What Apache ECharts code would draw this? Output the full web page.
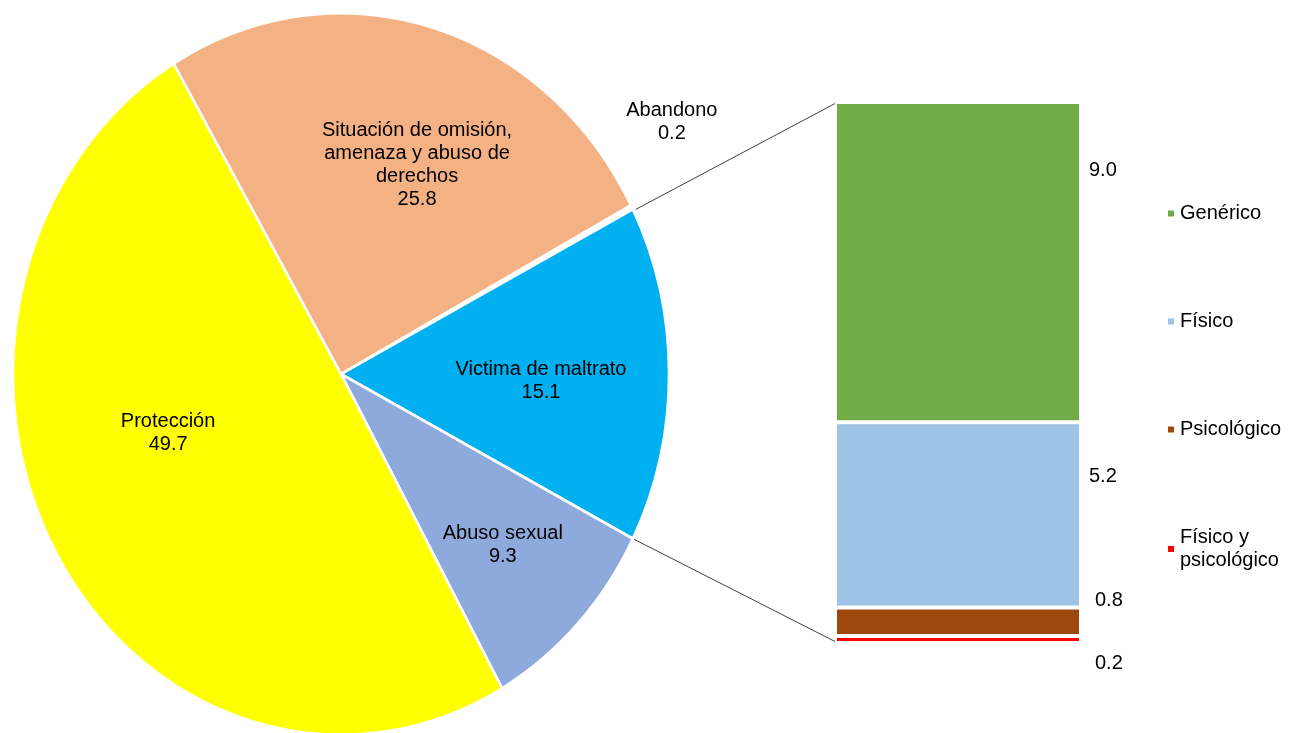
<!DOCTYPE html>
<html>
<head>
<meta charset="utf-8">
<script src="https://cdn.jsdelivr.net/npm/echarts@6/dist/echarts.min.js"></script>
<style>
  html, body { margin: 0; padding: 0; background: #fff; }
  #main { width: 1295px; height: 733px; }
</style>
</head>
<body>
<div id="main"></div>
<script>
// pie: all cases
var pieNames = ["Abandono", "Victima de maltrato", "Abuso sexual", "Protección", "Situación de omisión,\namenaza y abuso de\nderechos"];
var pieValues = [0.2, 15.1, 9.3, 49.7, 25.8];
var pieColors = ["#FFFFFF", "#00B0F0", "#8EA9DB", "#FFFF00", "#F4B183"];

// bar: breakdown of "Victima de maltrato" (bottom to top)
var barNames = ["Físico y\npsicológico", "Psicológico", "Físico", "Genérico"];
var barValues = [0.2, 0.8, 5.2, 9.0];
var barColors = ["#FF0000", "#9E480E", "#9DC3E6", "#70AD47"];
var legendOrder = ["Genérico", "Físico", "Psicológico", "Físico y\npsicológico"];

var FONT = "Liberation Sans";

// pie geometry (slightly taller than wide, like the original)
var CX = 341, CY = 374, R = 328, SY = 1.1;
// label spots: [angle deg (screen), fraction of radius]
var labelSpots = [[-34.9, 1.23], [1.3, 0.61], [43.5, 0.68], [163.4, 0.55], [-68.4, 0.63]];
// bar value label offsets
var barLabelOffsets = [[6, 24], [6, -21], [0, -38], [0, -92]];

var pieTotal = pieValues.reduce(function(a, b) { return a + b; }, 0);
// rotate so the "Victima de maltrato" slice is centred on the right
var startDeg = -(pieValues[0] + pieValues[1] / 2) / pieTotal * 360;
var angles = [startDeg];
for (var i = 0; i < pieValues.length; i++) {
  angles.push(angles[i] + pieValues[i] / pieTotal * 360);
}
var barTotal = barValues.reduce(function(a, b) { return a + b; }, 0);

var chart = echarts.init(document.getElementById("main"));

var barSeries = barNames.map(function(name, i) {
  return {
    name: name,
    type: "bar",
    stack: "vm",
    barWidth: "100%",
    data: [barValues[i]],
    itemStyle: { color: barColors[i], borderColor: "#fff", borderWidth: 2 },
    label: {
      show: true,
      position: "right",
      distance: 8,
      offset: barLabelOffsets[i],
      color: "#000",
      fontSize: 20,
      fontFamily: FONT,
      formatter: function(p) { return p.value.toFixed(1); }
    }
  };
});

var option = {
  backgroundColor: "#fff",
  animation: false,
  grid: { left: 835, top: 102, width: 246, height: 541 },
  xAxis: { type: "category", data: ["Victima de maltrato"], show: false },
  yAxis: { type: "value", min: 0, max: barTotal, show: false },
  legend: {
    data: legendOrder,
    orient: "vertical",
    left: 1161,
    top: 197,
    itemWidth: 8,
    itemHeight: 8,
    itemGap: 85,
    icon: "rect",
    selectedMode: false,
    textStyle: { color: "#000", fontSize: 20, fontFamily: FONT, lineHeight: 23 }
  },
  series: [
    {
      type: "custom",
      coordinateSystem: "none",
      data: pieValues,
      renderItem: function(params, api) {
        var i = params.dataIndex;
        var spot = labelSpots[i];
        var rad = spot[0] * Math.PI / 180;
        return {
          type: "group",
          children: [
            {
              type: "sector",
              x: CX,
              y: CY,
              scaleY: SY,
              shape: {
                cx: 0, cy: 0, r: R, r0: 0,
                startAngle: angles[i] * Math.PI / 180,
                endAngle: angles[i + 1] * Math.PI / 180,
                clockwise: true
              },
              style: { fill: pieColors[i], stroke: "#fff", lineWidth: 2.5, strokeNoScale: true }
            },
            {
              type: "text",
              x: CX + Math.cos(rad) * R * spot[1],
              y: CY + 2 + Math.sin(rad) * R * SY * spot[1],
              style: {
                text: pieNames[i] + "\n" + api.value(0).toFixed(1),
                fill: "#000",
                fontSize: 20,
                fontFamily: FONT,
                lineHeight: 23,
                align: "center",
                verticalAlign: "middle",
                textAlign: "center",
                textVerticalAlign: "middle"
              }
            }
          ]
        };
      }
    }
  ].concat(barSeries)
};
chart.setOption(option);

// connector lines from the "Victima de maltrato" slice to the bar
var a0 = angles[1] * Math.PI / 180, a1 = angles[2] * Math.PI / 180;
var yTop = chart.convertToPixel({ yAxisIndex: 0 }, barTotal);
var yBot = chart.convertToPixel({ yAxisIndex: 0 }, 0);
var barLeft = option.grid.left + 1;
chart.setOption({
  graphic: [
    {
      type: "line",
      shape: { x1: CX + 3 + Math.cos(a0) * R, y1: CY + Math.sin(a0) * R * SY, x2: barLeft, y2: yTop + 1 },
      style: { stroke: "#404040", lineWidth: 1 }
    },
    {
      type: "line",
      shape: { x1: CX + Math.cos(a1) * R, y1: CY + Math.sin(a1) * R * SY, x2: barLeft, y2: yBot - 1 },
      style: { stroke: "#404040", lineWidth: 1 }
    }
  ]
});
</script>
</body>
</html>
